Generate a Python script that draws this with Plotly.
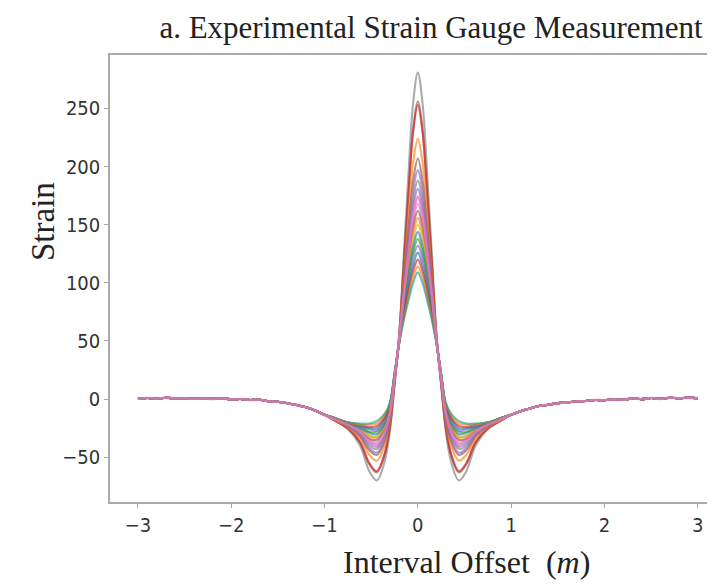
import plotly.graph_objects as go

# offsets (m) on one side of the gauge, with the strain read at each offset for every load case
offsets = [0.0, 0.05, 0.1, 0.15, 0.2, 0.25, 0.3, 0.36, 0.44, 0.52, 0.62, 0.75, 0.9]

peak = [281, 256, 253, 224, 207, 197, 188, 181, 174, 168, 162, 156, 150, 144, 138, 132, 126, 120, 114, 109]
at_005 = [255, 232, 230, 204, 188, 179, 171, 165, 159, 153, 148, 142, 137, 131, 126, 121, 115, 110, 105, 100]
at_010 = [194, 178, 176, 158, 147, 141, 135, 131, 126, 122, 119, 115, 111, 107, 103, 100, 96, 92, 88, 85]
at_015 = [125, 117, 116, 106, 100, 97, 94, 92, 90, 88, 86, 84, 82, 80, 78, 76, 74, 72, 70, 68]
at_020 = [55, 54, 54, 53, 52, 52, 51, 51, 51, 50, 50, 50, 50, 49, 49, 49, 49, 48, 48, 48]
at_025 = [12, 13, 14, 15, 16, 17, 17, 18, 18, 19, 19, 19, 20, 20, 20, 21, 21, 21, 22, 22]
at_030 = [-28, -24, -24, -20, -17, -16, -14, -13, -12, -12, -11, -10, -9, -8, -7, -6, -5, -5, -4, -3]
at_036 = [-55, -49, -48, -41, -37, -35, -32, -31, -29, -27, -26, -24, -23, -22, -20, -19, -17, -16, -14, -13]
at_044 = [-70, -63, -62, -53, -48, -46, -43, -41, -39, -37, -35, -33, -32, -30, -28, -27, -25, -23, -21, -19]
at_052 = [-62, -56, -55, -48, -44, -42, -40, -38, -36, -35, -34, -32, -31, -29, -28, -26, -25, -24, -22, -21]
at_062 = [-40, -37, -37, -34, -32, -31, -30, -29, -28, -28, -27, -26, -26, -25, -24, -24, -23, -22, -22, -21]
at_075 = [-26, -25, -25, -24, -23, -23, -23, -22, -22, -22, -22, -22, -21, -21, -21, -21, -21, -20, -20, -20]
at_090 = [-18, -18, -18, -18, -17, -17, -17, -17, -17, -17, -17, -17, -17, -16, -16, -16, -16, -16, -16, -16]

colors = ["#7f7f7f", "#8c564b", "#d62728", "#ff7f0e", "#8c564b", "#9467bd", "#7f7f7f",
          "#9467bd", "#e377c2", "#e377c2", "#8c564b", "#ff7f0e", "#bcbd22", "#1f77b4",
          "#2ca02c", "#9467bd", "#1f77b4", "#d62728", "#ff7f0e", "#17a589"]

# tails shared by every load case
left_x = [-3.0, -2.9, -2.8, -2.7, -2.6, -2.5, -2.4, -2.3, -2.2, -2.1, -2.0,
          -1.9, -1.8, -1.7, -1.6, -1.5, -1.4, -1.3, -1.2, -1.1, -1.0]
left_y = [0.3, 1.0, 0.4, 1.2, 0.5, 0.6, 0.3, 0.5, 0.2, 0.6, -0.2,
          0.1, -0.8, -0.6, -1.8, -2.3, -3.6, -5.0, -7.0, -9.8, -13.5]
right_x = [1.0, 1.1, 1.2, 1.3, 1.4, 1.5, 1.6, 1.7, 1.8, 1.9, 2.0,
           2.1, 2.2, 2.3, 2.4, 2.5, 2.6, 2.7, 2.8, 2.9, 3.0]
right_y = [-13.5, -10.5, -8.0, -6.0, -4.8, -3.5, -2.8, -2.0, -1.6, -0.8, -0.9,
           -0.2, -0.5, 0.5, 0.0, 0.9, 0.2, 1.2, 0.6, 1.3, 0.8]

columns = [peak, at_005, at_010, at_015, at_020, at_025, at_030, at_036,
           at_044, at_052, at_062, at_075, at_090]

fig = go.Figure()
order = list(range(len(peak)))
order.remove(8)
order.append(8)  # pink case drawn last, it shows on the tails
for i in order:
    side = [col[i] for col in columns]
    xs = left_x + [-o for o in offsets[:0:-1]] + offsets + right_x
    ys = left_y + side[:0:-1] + side + right_y
    fig.add_trace(go.Scatter(x=xs, y=ys, mode="lines",
                             line=dict(color=colors[i], width=2.6 if i == 8 else 2.1, shape="spline"),
                             opacity=0.8 if i == 8 else 0.65, showlegend=False, hoverinfo="skip"))

# page body keeps its 8px margin: figure sits at window (8, 8)
W, H = 699, 572
L, R, T, B = 102, 699, 47, 494


def px(x, y):
    # window pixel -> paper fraction
    return (x - 8 - L) / (R - L), (B - (y - 8)) / (B - T)


tick_font = dict(family="DejaVu Sans Condensed, DejaVu Sans", size=20, color="#333333")
serif = dict(family="Liberation Serif", color="#222222")
sx, sy = px(43, 222)
xx, xy = px(466, 562)

fig.update_layout(
    width=W, height=H,
    margin=dict(l=L, r=W - R, t=T, b=H - B),
    paper_bgcolor="white", plot_bgcolor="white",
    title=dict(text="a. Experimental Strain Gauge Measurement",
               font=dict(size=31, **serif),
               x=(431 - 8) / W, xref="container", xanchor="center",
               y=1 - (27 - 8) / H, yref="container", yanchor="middle"),
    xaxis=dict(range=[-3.3, 3.1], tickvals=[-3, -2, -1, 0, 1, 2, 3],
               showgrid=False, zeroline=False, showline=True, mirror=True,
               linecolor="#aaaaaa", linewidth=1.5, ticks="outside", ticklen=4,
               tickcolor="#aaaaaa", tickfont=tick_font, automargin=False,
               ticklabeloverflow="allow"),
    yaxis=dict(range=[-88.5, 296], tickvals=[-50, 0, 50, 100, 150, 200, 250],
               showgrid=False, zeroline=False, showline=True,
               linecolor="#aaaaaa", linewidth=1.5, ticks="outside", ticklen=4,
               tickcolor="#aaaaaa", tickfont=tick_font, automargin=False),
    annotations=[
        dict(text="Strain", textangle=-90, x=sx, y=sy, xref="paper", yref="paper",
             xanchor="center", yanchor="middle", showarrow=False,
             font=dict(size=33, **serif)),
        dict(text="Interval Offset  (<i>m</i>)", x=xx, y=xy, xref="paper", yref="paper",
             xanchor="center", yanchor="middle", showarrow=False,
             font=dict(size=32, **serif)),
    ],
)

fig.write_html("out.html")
